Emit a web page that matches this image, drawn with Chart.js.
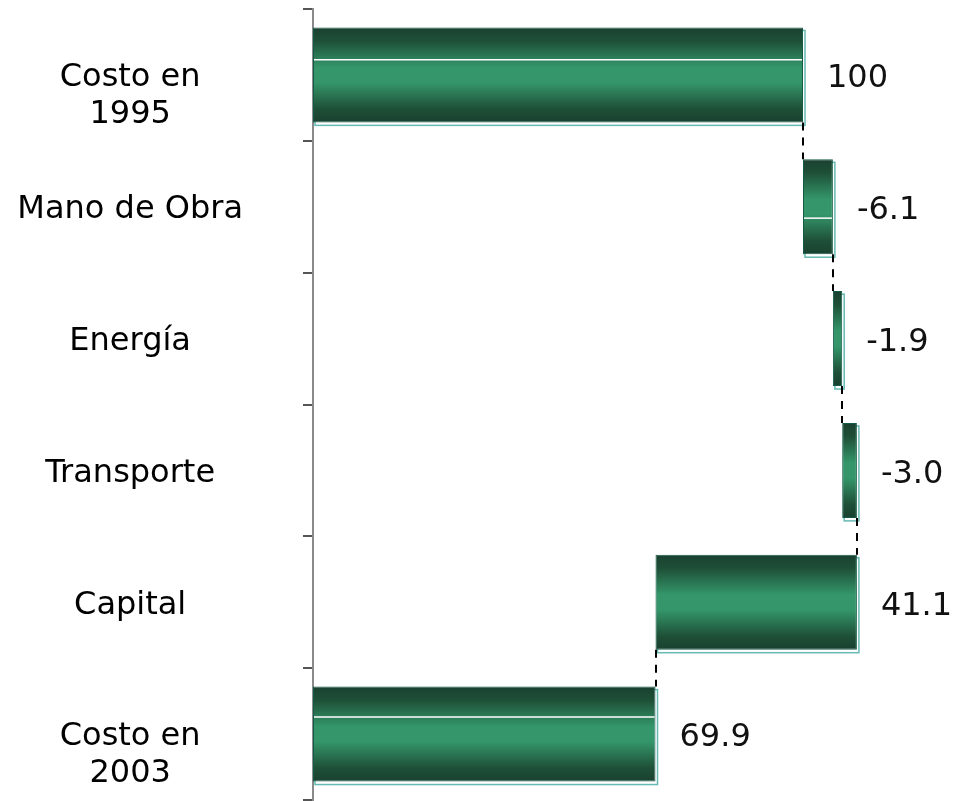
<!DOCTYPE html>
<html>
<head>
<meta charset="utf-8">
<script src="https://cdn.jsdelivr.net/npm/chart.js@4/dist/chart.umd.min.js"></script>
<style>
  html, body { margin: 0; padding: 0; background: #ffffff; }
  canvas { display: block; }
</style>
</head>
<body>
<canvas id="c" width="965" height="801"></canvas>
<script>
// ---- data ----
const categories = [["Costo en", "1995"], "Mano de Obra", "Energía", "Transporte", "Capital", ["Costo en", "2003"]];
const valueLabels = ["100", "-6.1", "-1.9", "-3.0", "41.1", "69.9"];
const barStart = [0, 100, 106.1, 108.0, 69.9, 0];
const barEnd = [100, 106.1, 108.0, 111.0, 111.0, 69.9];

// ---- style config ----
const BAR_PCT = 0.72;
const glossAt = [0.34, 0.62, null, null, null, 0.32];
const FONT = '"DejaVu Sans", Verdana, sans-serif';

function barGradient(ctx) {
  const chart = ctx.chart;
  const area = chart.chartArea;
  const ys = chart.scales.y;
  if (!area || !ys) return '#34966a';
  const c = ys.getPixelForValue(ctx.dataIndex);
  const half = (ys.height / categories.length) * BAR_PCT / 2;
  const g = chart.ctx.createLinearGradient(0, c - half, 0, c + half);
  g.addColorStop(0, '#194130');
  g.addColorStop(0.14, '#1e4f37');
  g.addColorStop(0.42, '#34966a');
  g.addColorStop(0.58, '#34966a');
  g.addColorStop(0.86, '#1e4f37');
  g.addColorStop(1, '#194130');
  return g;
}

const decorPlugin = {
  id: 'decor',
  beforeDatasetsDraw(chart) {
    const ctx = chart.ctx;
    const meta = chart.getDatasetMeta(0);
    ctx.save();
    ctx.strokeStyle = '#66bab3';
    ctx.lineWidth = 1.5;
    meta.data.forEach((el) => {
      const p = el.getProps(['x', 'y', 'base', 'height'], true);
      const l = Math.min(p.x, p.base), r = Math.max(p.x, p.base);
      const t = p.y - p.height / 2;
      ctx.strokeRect(l + 2, t + 3, r - l, p.height);
    });
    ctx.restore();
  },
  afterDatasetsDraw(chart) {
    const ctx = chart.ctx;
    const meta = chart.getDatasetMeta(0);
    const xs = chart.scales.x;
    ctx.save();
    // gloss lines
    ctx.strokeStyle = '#ffffff';
    ctx.lineWidth = 1.5;
    meta.data.forEach((el, i) => {
      if (glossAt[i] == null) return;
      const p = el.getProps(['x', 'y', 'base', 'height'], true);
      const l = Math.min(p.x, p.base), r = Math.max(p.x, p.base);
      const yy = p.y - p.height / 2 + p.height * glossAt[i];
      ctx.beginPath();
      ctx.moveTo(l + 1, yy);
      ctx.lineTo(r - 1, yy);
      ctx.stroke();
    });
    // dashed connectors
    ctx.strokeStyle = '#000000';
    ctx.lineWidth = 2;
    ctx.setLineDash([8, 7]);
    for (let i = 0; i < meta.data.length - 1; i++) {
      const a = [barStart[i], barEnd[i]];
      const b = [barStart[i + 1], barEnd[i + 1]];
      const v = a.find((q) => b.includes(q));
      if (v === undefined) continue;
      const pa = meta.data[i].getProps(['y', 'height'], true);
      const pb = meta.data[i + 1].getProps(['y', 'height'], true);
      const x = Math.round(xs.getPixelForValue(v));
      ctx.beginPath();
      ctx.moveTo(x, pa.y + pa.height / 2);
      ctx.lineTo(x, pb.y - pb.height / 2);
      ctx.stroke();
    }
    ctx.setLineDash([]);
    // value labels
    ctx.fillStyle = '#111111';
    ctx.font = '32px ' + FONT;
    ctx.textAlign = 'left';
    ctx.textBaseline = 'middle';
    meta.data.forEach((el, i) => {
      const p = el.getProps(['x', 'y', 'base'], true);
      const r = Math.max(p.x, p.base);
      ctx.fillText(valueLabels[i], r + 24, p.y + 4);
    });
    ctx.restore();
  }
};

new Chart(document.getElementById('c'), {
  type: 'bar',
  data: {
    labels: categories,
    datasets: [{
      data: categories.map((c, i) => [barStart[i], barEnd[i]]),
      backgroundColor: barGradient,
      borderColor: '#145a48',
      borderWidth: 1,
      borderSkipped: false,
      categoryPercentage: 1,
      barPercentage: BAR_PCT
    }]
  },
  options: {
    indexAxis: 'y',
    responsive: false,
    animation: false,
    layout: { padding: { top: 9, bottom: 1, right: 15, left: 0 } },
    plugins: { legend: { display: false }, tooltip: { enabled: false } },
    scales: {
      x: { type: 'linear', min: 0, max: 130, display: false },
      y: {
        type: 'category',
        offset: true,
        afterFit(scale) { scale.width = 313; scale.paddingTop = 0; scale.paddingBottom = 0; },
        grid: { offset: true, drawOnChartArea: false, drawTicks: true, tickLength: 10, color: '#555555', lineWidth: 2 },
        border: { display: true, color: '#8a8a8a', width: 2 },
        ticks: {
          crossAlign: 'center',
          padding: 60,
          labelOffset: 3,
          color: '#000000',
          font: { family: FONT, size: 32, lineHeight: 1.15 },
          callback: function (v) {
            const l = this.getLabelForValue(v);
            return Array.isArray(l) ? [''].concat(l) : l;
          }
        }
      }
    }
  },
  plugins: [decorPlugin]
});
</script>
</body>
</html>
